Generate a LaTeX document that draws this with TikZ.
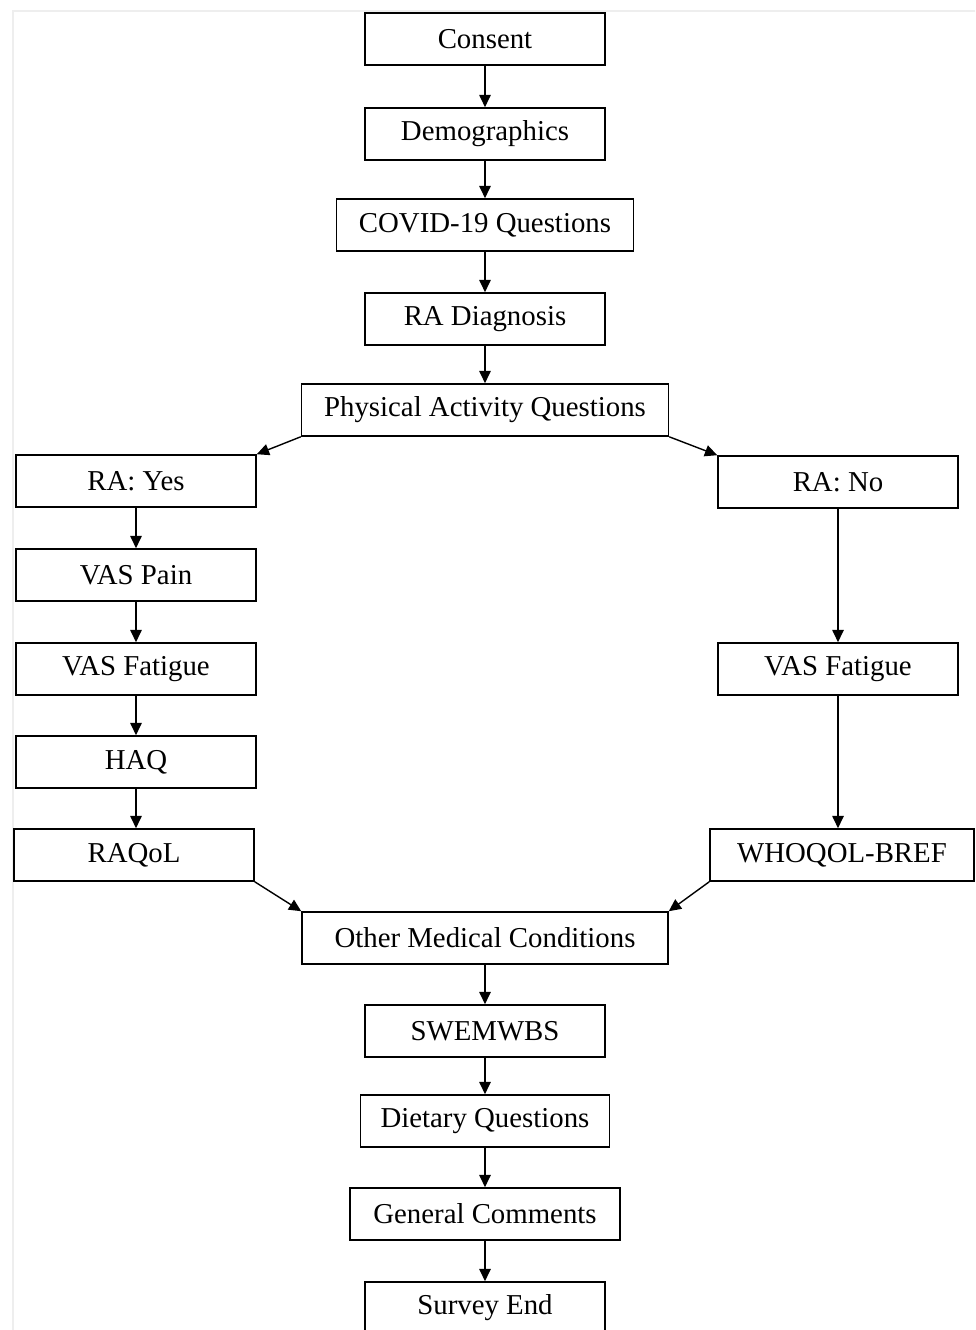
\documentclass[tikz,border=0pt]{standalone}
\usepackage{fontspec}
\setmainfont{Liberation Serif}
\usetikzlibrary{arrows.meta,positioning}
\definecolor{framegray}{RGB}{238,238,238}

\begin{document}
\begin{tikzpicture}[x=0.02cm,y=-0.02cm,
  stage/.style={draw,line width=0.9pt,minimum width=4.8cm,minimum height=1.04cm,inner sep=0pt,font=\fontsize{16.4}{19}\selectfont},
  flow/.style={-{Triangle[length=7pt,width=6.5pt]},line width=0.8pt}]
\useasboundingbox (0,0) rectangle (975,1330);
\clip (0,0) rectangle (975,1330);
\draw[framegray,line width=1.2pt] (13,1340) -- (13,11) -- (990,11);
% main column
\node[stage] (consent) at (485,39) {Consent};
\node[stage] (demo) at (485,134) {Demographics};
\node[stage,minimum width=5.94cm] (covid) at (485,225) {COVID-19 Questions};
\node[stage] (diag) at (485,319) {RA Diagnosis};
\node[stage,minimum width=7.34cm] (activity) at (485,410) {Physical Activity Questions};
% RA yes
\node[stage] (yes) at (136,481) {RA: Yes};
\node[stage] (pain) at (136,575) {VAS Pain};
\node[stage] (fatyes) at (136,669) {VAS Fatigue};
\node[stage] (haq) at (136,762) {HAQ};
\node[stage] (raqol) at (134,855) {RAQoL};
% RA no
\node[stage] (no) at (838,482) {RA: No};
\node[stage] (fatno) at (838,669) {VAS Fatigue};
\node[stage,minimum width=5.28cm] (whoqol) at (842,855) {WHOQOL-BREF};
% end
\node[stage,minimum width=7.32cm] (other) at (485,938) {Other Medical Conditions};
\node[stage] (swem) at (485,1031) {SWEMWBS};
\node[stage,minimum width=4.98cm] (diet) at (485,1121) {Dietary Questions};
\node[stage,minimum width=5.4cm] (comments) at (485,1214) {General Comments};
\node[stage] (finish) at (485,1308) {Survey End};
\path[flow]
(consent) edge (demo)
(demo) edge (covid)
(covid) edge (diag)
(diag) edge (activity)
(activity.south west) edge (yes.north east)
(activity.south east) edge (no.north west)
(yes) edge (pain)
(pain) edge (fatyes)
(fatyes) edge (haq)
(haq) edge (raqol.north -| haq)
(no) edge (fatno)
(fatno) edge (whoqol.north -| fatno)
(raqol.south east) edge (other.north west)
(whoqol.south west) edge (other.north east)
(other) edge (swem)
(swem) edge (diet)
(diet) edge (comments)
(comments) edge (finish);
\end{tikzpicture}
\end{document}
